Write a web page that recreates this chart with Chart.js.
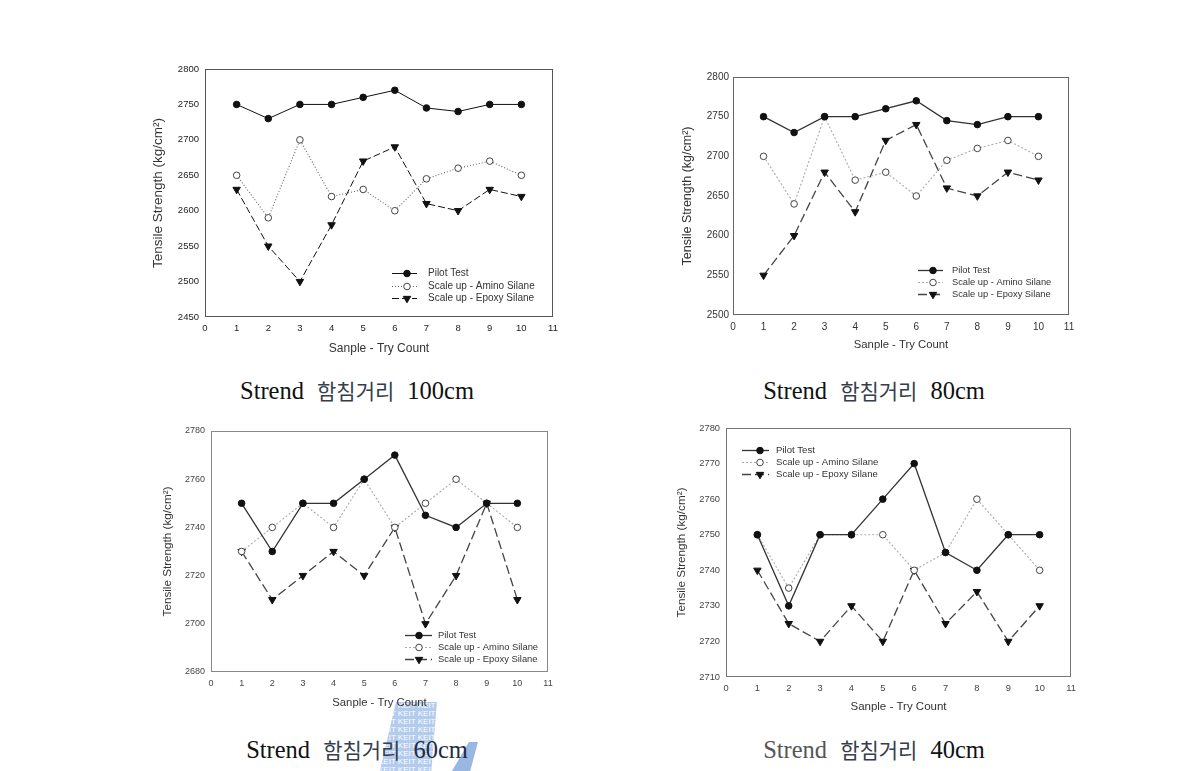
<!DOCTYPE html>
<html><head><meta charset="utf-8">
<script src="https://cdn.jsdelivr.net/npm/chart.js@4.4.1/dist/chart.umd.min.js"></script>
<style>
body{margin:0;background:#fff;width:1180px;height:771px;overflow:hidden;position:relative;}
canvas{position:absolute;}
.cap{position:absolute;white-space:nowrap;transform:translateX(-50%);font-family:"Liberation Serif",serif;font-size:24.5px;line-height:24px;color:#111;}
.cap .ko{font-family:"Noto Sans CJK KR",sans-serif;font-size:21px;color:#363d4c;margin:0 13px;}
.wm{position:absolute;background:#b3cbec;color:#fff;font-family:"Liberation Sans",sans-serif;font-size:8px;line-height:8px;overflow:hidden;white-space:nowrap;}
</style></head><body>
<div class="wm" style="left:378px;top:702px;width:62px;height:69px;clip-path:polygon(29% 0,95% 0,86% 100%,3% 100%);">KEIT KEIT KEIT<br>KEIT KEIT KEIT<br>KEIT KEIT KEIT<br>KEIT KEIT KEIT<br>KEIT KEIT KEIT<br>KEIT KEIT KEIT<br>KEIT KEIT KEIT<br>KEIT KEIT KEIT<br>KEIT KEIT KEIT</div>
<div class="wm" style="left:452px;top:742px;width:26px;height:29px;clip-path:polygon(65% 0,100% 0,70% 100%,0 100%);background:#9ab7e2;"></div>
<canvas id="c100"></canvas>
<canvas id="c80"></canvas>
<canvas id="c60"></canvas>
<canvas id="c40"></canvas>
<div class="cap" style="left:357px;top:378px;">Strend<span class="ko">함침거리</span>100cm</div>
<div class="cap" style="left:874px;top:378px;">Strend<span class="ko">함침거리</span>80cm</div>
<div class="cap" style="left:357px;top:737px;">Strend<span class="ko">함침거리</span><span style="color:#1f2a44">60cm</span></div>
<div class="cap" style="left:874px;top:737px;"><span style="color:#555">Strend</span><span class="ko">함침거리</span>40cm</div>
<script>
// ---- data ----
const samples = [1, 2, 3, 4, 5, 6, 7, 8, 9, 10];
const xTickLabels = [0, 1, 2, 3, 4, 5, 6, 7, 8, 9, 10, 11];
const seriesNames = ["Pilot Test", "Scale up - Amino Silane", "Scale up - Epoxy Silane"];

const pilot100 = [2750, 2730, 2750, 2750, 2760, 2770, 2745, 2740, 2750, 2750];
const amino100 = [2650, 2590, 2700, 2620, 2630, 2600, 2645, 2660, 2670, 2650];
const epoxy100 = [2630, 2550, 2500, 2580, 2670, 2690, 2610, 2600, 2630, 2620];
const yTicks100 = [2450, 2500, 2550, 2600, 2650, 2700, 2750, 2800];

const pilot80 = [2750, 2730, 2750, 2750, 2760, 2770, 2745, 2740, 2750, 2750];
const amino80 = [2700, 2640, 2750, 2670, 2680, 2650, 2695, 2710, 2720, 2700];
const epoxy80 = [2550, 2600, 2680, 2630, 2720, 2740, 2660, 2650, 2680, 2670];
const yTicks80 = [2500, 2550, 2600, 2650, 2700, 2750, 2800];

const pilot60 = [2750, 2730, 2750, 2750, 2760, 2770, 2745, 2740, 2750, 2750];
const amino60 = [2730, 2740, 2750, 2740, 2760, 2740, 2750, 2760, 2750, 2740];
const epoxy60 = [2730, 2710, 2720, 2730, 2720, 2740, 2700, 2720, 2750, 2710];
const yTicks60 = [2680, 2700, 2720, 2740, 2760, 2780];

const pilot40 = [2750, 2730, 2750, 2750, 2760, 2770, 2745, 2740, 2750, 2750];
const amino40 = [2750, 2735, 2750, 2750, 2750, 2740, 2745, 2760, 2750, 2740];
const epoxy40 = [2740, 2725, 2720, 2730, 2720, 2740, 2725, 2734, 2720, 2730];
const yTicks40 = [2710, 2720, 2730, 2740, 2750, 2760, 2770, 2780];

const xTitle = "Sanple - Try Count";
const yTitle = "Tensile Strength (kg/cm\u00B2)";

// ---- layout / style ----
const panels = [
  {id:"c100", data:[pilot100, amino100, epoxy100], yTicks:yTicks100,
   area:{L:205,R:553,T:69,B:317}, tickFont:9.5, yTitleFont:13.5, yTitlePad:15, xTitleFont:12, xTitlePad:6,
   tickColor:"#222", frame:"#555", c:["#111","#666","#111"], dashA:[1,2], dashE:[7,3], lw:1,
   legend:{x:187,y:204,gap:12.5,lineLen:25,markX:15,textX:36,font:10}, yPad:6, xPad:6},
  {id:"c80", data:[pilot80, amino80, epoxy80], yTicks:yTicks80,
   area:{L:733,R:1069,T:77,B:315}, tickFont:10, yTitleFont:12.5, yTitlePad:17, xTitleFont:11.3, xTitlePad:8,
   tickColor:"#333", frame:"#666", c:["#333","#aaa","#444"], dashA:[2,2], dashE:[9,4], lw:1.3,
   legend:{x:185,y:193,gap:12,lineLen:25,markX:15,textX:34,font:9.3}, yPad:4, xPad:6},
  {id:"c60", data:[pilot60, amino60, epoxy60], yTicks:yTicks60,
   area:{L:211,R:548,T:431,B:672}, tickFont:9, yTitleFont:11.7, yTitlePad:20, xTitleFont:11.3, xTitlePad:7,
   tickColor:"#444", frame:"#888", c:["#333","#aaa","#444"], dashA:[2,2], dashE:[9,4], lw:1.3,
   legend:{x:194,y:204,gap:12,lineLen:27,markX:14,textX:33,font:9.4}, yPad:6, xPad:6},
  {id:"c40", data:[pilot40, amino40, epoxy40], yTicks:yTicks40,
   area:{L:726,R:1071,T:428,B:677}, tickFont:9.3, yTitleFont:11.7, yTitlePad:19, xTitleFont:11.5, xTitlePad:8,
   tickColor:"#444", frame:"#777", c:["#333","#aaa","#444"], dashA:[2,2], dashE:[9,4], lw:1.3,
   legend:{x:16,y:22,gap:12,lineLen:27,markX:18,textX:34,font:9.6}, yPad:6, xPad:6}
];

const FONT = "'Liberation Sans', Arial, sans-serif";

const framePlugin = {
  id:"frame",
  beforeDatasetsDraw(chart, args, o){
    const {ctx, chartArea:a} = chart;
    ctx.save(); ctx.strokeStyle = o.color; ctx.lineWidth = 1;
    ctx.strokeRect(Math.round(a.left)+0.5, Math.round(a.top)+0.5, Math.round(a.right-a.left)-1, Math.round(a.bottom-a.top)-1);
    ctx.restore();
  }
};

function marker(ctx, style, x, y, r){
  ctx.beginPath();
  if (style === "circle") { ctx.arc(x, y, r, 0, Math.PI*2); }
  else { ctx.moveTo(x, y + r); ctx.lineTo(x - r*0.866, y - r/2); ctx.lineTo(x + r*0.866, y - r/2); ctx.closePath(); }
  ctx.fill(); ctx.stroke();
}

const legendPlugin = {
  id:"boxLegend",
  afterDatasetsDraw(chart, args, o){
    const {ctx, chartArea:a} = chart;
    const x0 = a.left + o.x, y0 = a.top + o.y;
    chart.data.datasets.forEach((ds, i) => {
      const y = Math.round(y0 + i*o.gap) + 0.5;
      ctx.save();
      ctx.strokeStyle = ds.borderColor; ctx.lineWidth = ds.borderWidth;
      ctx.setLineDash(ds.borderDash || []);
      ctx.beginPath(); ctx.moveTo(x0, y); ctx.lineTo(x0 + o.lineLen, y); ctx.stroke();
      ctx.setLineDash([]);
      ctx.fillStyle = ds.pointBackgroundColor; ctx.strokeStyle = ds.pointBorderColor; ctx.lineWidth = 1;
      marker(ctx, ds.pointStyle === "triangle" ? "tri" : "circle", x0 + o.markX, y, ds.pointRadius);
      ctx.fillStyle = "#333"; ctx.font = o.font + "px " + FONT; ctx.textBaseline = "middle";
      ctx.fillText(ds.label, x0 + o.textX, y);
      ctx.restore();
    });
  }
};

panels.forEach(p => {
  const cv = document.getElementById(p.id);
  const padL = 70, padT = 12, padR = 15, xH = 45;
  const w = (p.area.R - p.area.L) + padL + padR;
  const h = (p.area.B - p.area.T) + padT + xH;
  cv.width = w; cv.height = h;
  cv.style.left = (p.area.L - padL) + "px"; cv.style.top = (p.area.T - padT) + "px";
  cv.style.width = w + "px"; cv.style.height = h + "px";
  const mk = vals => samples.map((s, i) => ({x:s, y:vals[i]}));
  const datasets = [
    {label:seriesNames[0], data:mk(p.data[0]), borderColor:p.c[0], borderWidth:p.lw, pointStyle:"circle", pointRadius:3.3,
     pointBackgroundColor:"#111", pointBorderColor:"#111", pointBorderWidth:1},
    {label:seriesNames[1], data:mk(p.data[1]), borderColor:p.c[1], borderWidth:1.1, borderDash:p.dashA, pointStyle:"circle", pointRadius:3.3,
     pointBackgroundColor:"#fff", pointBorderColor:"#444", pointBorderWidth:1},
    {label:seriesNames[2], data:mk(p.data[2]), borderColor:p.c[2], borderWidth:p.lw, borderDash:p.dashE, pointStyle:"triangle", pointRotation:180, pointRadius:4.3,
     pointBackgroundColor:"#111", pointBorderColor:"#111", pointBorderWidth:1}
  ];
  const yt = p.yTicks;
  const plain = v => String(v);
  new Chart(cv, {
    type:"line",
    data:{datasets},
    options:{
      responsive:false, animation:false, devicePixelRatio:1,
      layout:{padding:{left:0, top:padT, right:padR, bottom:0}},
      plugins:{legend:{display:false}, tooltip:{enabled:false},
        frame:{color:p.frame}, boxLegend:p.legend},
      elements:{line:{tension:0, fill:false}},
      scales:{
        x:{type:"linear", min:xTickLabels[0], max:xTickLabels[xTickLabels.length-1],
           afterFit(s){ s.height = xH; },
           afterBuildTicks(s){ s.ticks = xTickLabels.map(v => ({value:v})); },
           grid:{display:false, drawTicks:false}, border:{display:false},
           ticks:{font:{size:p.tickFont, family:FONT}, color:p.tickColor, padding:p.xPad, maxRotation:0, autoSkip:false, callback:plain},
           title:{display:true, text:xTitle, font:{size:p.xTitleFont, family:FONT}, color:"#333", padding:{top:0, bottom:p.xTitlePad}}},
        y:{type:"linear", min:yt[0], max:yt[yt.length-1],
           afterFit(s){ s.width = padL; },
           afterBuildTicks(s){ s.ticks = yt.map(v => ({value:v})); },
           grid:{display:false, drawTicks:false}, border:{display:false},
           ticks:{font:{size:p.tickFont, family:FONT}, color:p.tickColor, padding:p.yPad, autoSkip:false, callback:plain},
           title:{display:true, text:yTitle, font:{size:p.yTitleFont, family:FONT}, color:"#333", padding:{top:p.yTitlePad, bottom:0}}}
      }
    },
    plugins:[framePlugin, legendPlugin]
  });
});
</script>
</body></html>
